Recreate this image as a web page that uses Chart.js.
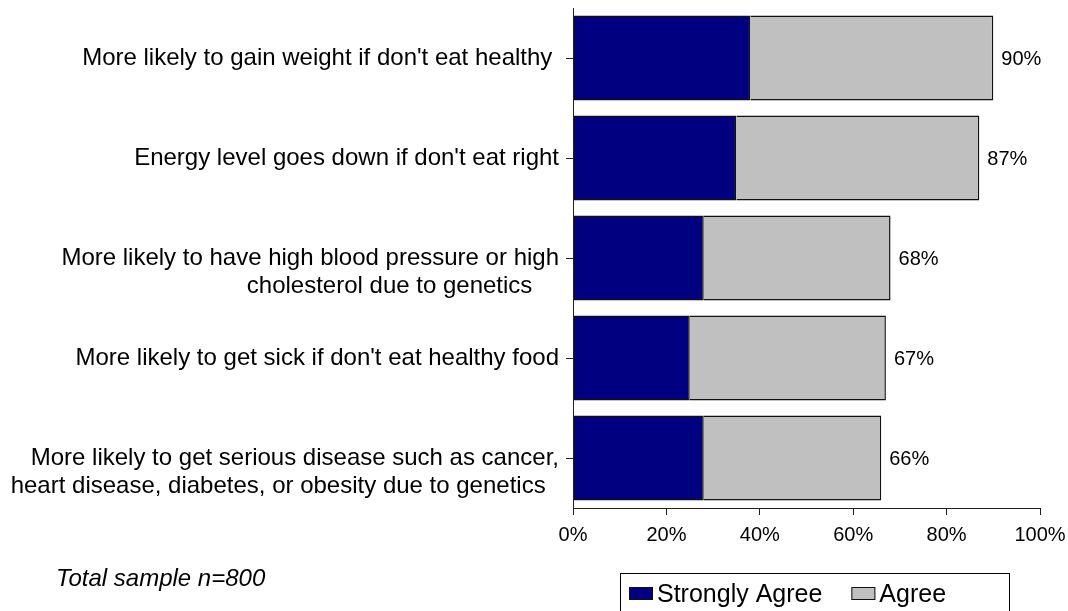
<!DOCTYPE html>
<html>
<head>
<meta charset="utf-8">
<script src="https://cdn.jsdelivr.net/npm/chart.js@4/dist/chart.umd.min.js"></script>
<style>
  html, body { margin: 0; padding: 0; background: #fff; overflow: hidden; }
  canvas { display: block; }
</style>
</head>
<body>
<canvas id="c" width="1068" height="611"></canvas>
<script>
// Statements (each entry holds the lines the label is broken into)
const statements = [
  ["More likely to gain weight if don't eat healthy"],
  ["Energy level goes down if don't eat right"],
  ["More likely to have high blood pressure or high", "cholesterol due to genetics"],
  ["More likely to get sick if don't eat healthy food"],
  ["More likely to get serious disease such as cancer,", "heart disease, diabetes, or obesity due to genetics"]
];
// Share of respondents (%)
const stronglyAgree = [38, 35, 28, 25, 28];
const agree = [52, 52, 40, 42, 38];
const seriesNames = ["Strongly Agree", "Agree"];
const xTickValues = [0, 20, 40, 60, 80, 100];
const sampleNote = "Total sample n=800";

const FONT = '"Liberation Sans", Arial, Helvetica, sans-serif';
const AXIS = '#222';
const EDGE = '#111';

// trailing spaces per label line, so wrapped lines sit like the original layout
const lineTail = { 0: [1], 2: [0, 4], 4: [0, 2] };

function tickLabel(index) {
  const lines = statements[index].map((t, j) => {
    const n = (lineTail[index] && lineTail[index][j]) || 0;
    return t + ' '.repeat(n);
  });
  // two-line labels keep their first line level with the tick
  return lines.length > 1 ? [''].concat(lines) : lines[0];
}

const valueLabels = {
  id: 'valueLabels',
  afterDatasetsDraw(chart) {
    const ctx = chart.ctx;
    const meta = chart.getDatasetMeta(1);
    ctx.save();
    ctx.font = '20px ' + FONT;
    ctx.fillStyle = '#000';
    ctx.textAlign = 'left';
    ctx.textBaseline = 'middle';
    meta.data.forEach((bar, i) => {
      const total = stronglyAgree[i] + agree[i];
      ctx.fillText(total + '%', bar.x + 8, bar.y + 1);
    });
    ctx.restore();
  }
};

const footer = {
  id: 'footer',
  afterDraw(chart) {
    const ctx = chart.ctx;
    ctx.save();
    // sample note
    ctx.font = 'italic 24px ' + FONT;
    ctx.fillStyle = '#000';
    ctx.textBaseline = 'alphabetic';
    ctx.textAlign = 'left';
    ctx.fillText(sampleNote, 56, 586);

    // legend box
    ctx.strokeStyle = '#000';
    ctx.lineWidth = 1;
    ctx.strokeRect(620.5, 573.5, 389, 60);
    ctx.font = '25px ' + FONT;
    let x = 629;
    chart.data.datasets.forEach(ds => {
      ctx.fillStyle = ds.backgroundColor;
      ctx.fillRect(x, 587, 24, 13);
      ctx.strokeStyle = EDGE;
      ctx.strokeRect(x + 0.5, 587.5, 23, 12);
      ctx.fillStyle = '#000';
      ctx.fillText(ds.label, x + 28, 602);
      x += 28 + ctx.measureText(ds.label).width + 29;
    });
    ctx.restore();
  }
};

new Chart(document.getElementById('c'), {
  type: 'bar',
  data: {
    labels: statements.map((s, i) => i),
    datasets: [
      {
        label: seriesNames[0],
        data: stronglyAgree,
        backgroundColor: '#000080',
        borderColor: EDGE,
        borderWidth: 1.5,
        borderSkipped: false,
        barPercentage: 0.85,
        categoryPercentage: 1
      },
      {
        label: seriesNames[1],
        data: agree,
        backgroundColor: '#C0C0C0',
        borderColor: EDGE,
        borderWidth: 1.5,
        borderSkipped: 'start',
        barPercentage: 0.85,
        categoryPercentage: 1
      }
    ]
  },
  options: {
    indexAxis: 'y',
    responsive: false,
    devicePixelRatio: 1,
    animation: false,
    layout: { padding: { top: 8, right: 28, left: 0, bottom: 0 } },
    plugins: {
      legend: { display: false },
      tooltip: { enabled: false },
      title: { display: false }
    },
    scales: {
      x: {
        stacked: true,
        min: 0,
        max: 100,
        afterBuildTicks(scale) {
          scale.ticks = xTickValues.map(v => ({ value: v }));
        },
        ticks: {
          callback: v => v + '%',
          font: { family: FONT, size: 20 },
          color: '#000',
          padding: 8,
          maxRotation: 0,
          autoSkip: false
        },
        grid: { drawOnChartArea: false, drawTicks: true, tickLength: 7, color: AXIS, lineWidth: 1 },
        border: { display: true, color: AXIS, width: 1 },
        afterFit(scale) {
          scale.height = 103;
          scale.paddingLeft = 0;
          scale.paddingRight = 0;
        }
      },
      y: {
        stacked: true,
        ticks: {
          callback: (v, i) => tickLabel(i),
          font: { family: FONT, size: 24, lineHeight: 1.17 },
          color: '#000',
          padding: 7,
          autoSkip: false
        },
        grid: { drawOnChartArea: false, offset: false, drawTicks: true, tickLength: 7, color: AXIS, lineWidth: 1 },
        border: { display: true, color: AXIS, width: 1 },
        afterFit(scale) {
          scale.width = 573;
          scale.paddingTop = 0;
          scale.paddingBottom = 0;
        }
      }
    }
  },
  plugins: [valueLabels, footer]
});
</script>
</body>
</html>
